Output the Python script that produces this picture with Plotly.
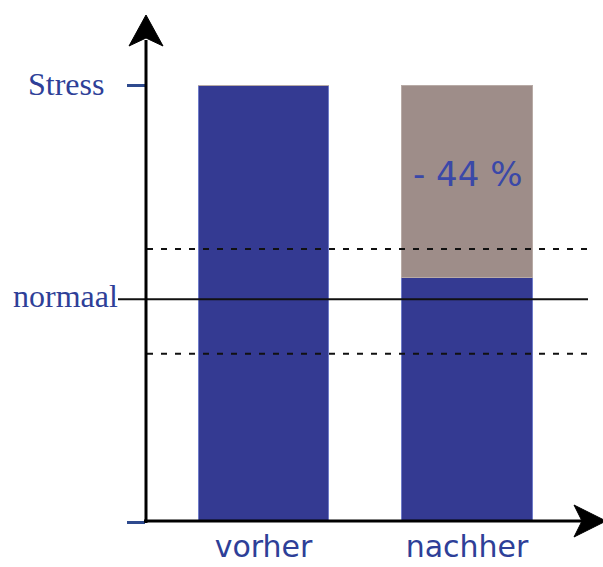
import plotly.graph_objects as go

# ---- data ----
categories = ["vorher", "nachher"]
stress_level = [100, 56]       # remaining stress (blue)
reduction = [0, 44]            # removed stress (grey)
normal_level = 51
band_upper = 62.5
band_lower = 38.5
y_tick_values = [0, 100]
y_labels = {"Stress": 100, "normaal": normal_level}
reduction_label = "- 44 %"

BLUE = "#343a92"
GREY = "#9e8d89"
TEXT_BLUE = "#2e3f98"

W, H = 603, 567
L, B = 146, 45
PW, PH = W - L, H - B


def px(x):
    return (x - L) / PW


def py(y):
    return (H - B - y) / PH


fig = go.Figure()
fig.add_trace(go.Bar(x=[0, 1], y=stress_level, marker=dict(color=BLUE, line=dict(color="#6f7cc8", width=1)),
                     width=0.64, showlegend=False, hoverinfo="skip"))
fig.add_trace(go.Bar(x=[0, 1], y=reduction, marker=dict(color=GREY, line=dict(color="#b8aba6", width=1)),
                     width=0.64, showlegend=False, hoverinfo="skip"))

shapes = []
# normal line and band
shapes.append(dict(type="line", xref="paper", yref="y", x0=px(118), x1=px(588),
                   y0=normal_level, y1=normal_level, line=dict(color="#111", width=2)))
for yv in (band_upper, band_lower):
    shapes.append(dict(type="line", xref="paper", yref="y", x0=px(147), x1=px(592),
                       y0=yv, y1=yv, line=dict(color="#111", width=2, dash="6px,8px")))
# axes
shapes.append(dict(type="line", xref="paper", yref="paper", x0=px(146), x1=px(146),
                   y0=py(523), y1=py(40), line=dict(color="black", width=3)))
shapes.append(dict(type="line", xref="paper", yref="paper", x0=px(144), x1=px(590),
                   y0=py(521), y1=py(521), line=dict(color="black", width=3)))


def path(pts):
    return "M " + " L ".join(f"{px(x)},{py(y)}" for x, y in pts) + " Z"


shapes.append(dict(type="path", xref="paper", yref="paper",
                   path=path([(146, 15), (163, 46), (146, 38), (129, 46)]),
                   fillcolor="black", line=dict(color="black", width=1)))
shapes.append(dict(type="path", xref="paper", yref="paper",
                   path=path([(606, 521), (574, 505), (582, 521), (574, 537)]),
                   fillcolor="black", line=dict(color="black", width=1)))

annotations = []
annotations.append(dict(x=px(106), y=y_labels["Stress"], xref="paper", yref="y", text="Stress",
                        showarrow=False, xanchor="right", yanchor="middle", yshift=1,
                        font=dict(family="Liberation Serif", size=32, color=TEXT_BLUE)))
annotations.append(dict(x=px(120), y=y_labels["normaal"], xref="paper", yref="y", text="normaal",
                        showarrow=False, xanchor="right", yanchor="middle", yshift=3,
                        font=dict(family="Liberation Serif", size=32, color=TEXT_BLUE)))
annotations.append(dict(x=1, y=stress_level[1] + reduction[1] / 2, xref="x", yref="y", text=reduction_label,
                        showarrow=False, xanchor="center", yanchor="middle", yshift=7,
                        font=dict(family="DejaVu Sans", size=34, color="#3a48a8")))

fig.update_layout(
    width=W, height=H, barmode="stack",
    margin=dict(l=L, r=0, t=0, b=B, pad=0, autoexpand=False),
    paper_bgcolor="white", plot_bgcolor="white",
    shapes=shapes, annotations=annotations,
    xaxis=dict(range=[-117.5 / 203.5, -117.5 / 203.5 + PW / 203.5], tickvals=[0, 1], ticktext=categories,
               showgrid=False, zeroline=False, showline=False, ticks="", ticklabelstandoff=4,
               automargin=False,
               tickfont=dict(family="DejaVu Sans", size=30, color=TEXT_BLUE)),
    yaxis=dict(range=[0, PH / 4.37], tickvals=y_tick_values, ticks="outside", ticklen=18, tickwidth=3,
               automargin=False,
               tickcolor="#2e4a8e", showticklabels=False, showgrid=False, zeroline=False, showline=False),
)

fig.write_html("out.html", config={"displayModeBar": False},
               post_script="document.body.style.margin='0';document.body.style.overflow='hidden';")
